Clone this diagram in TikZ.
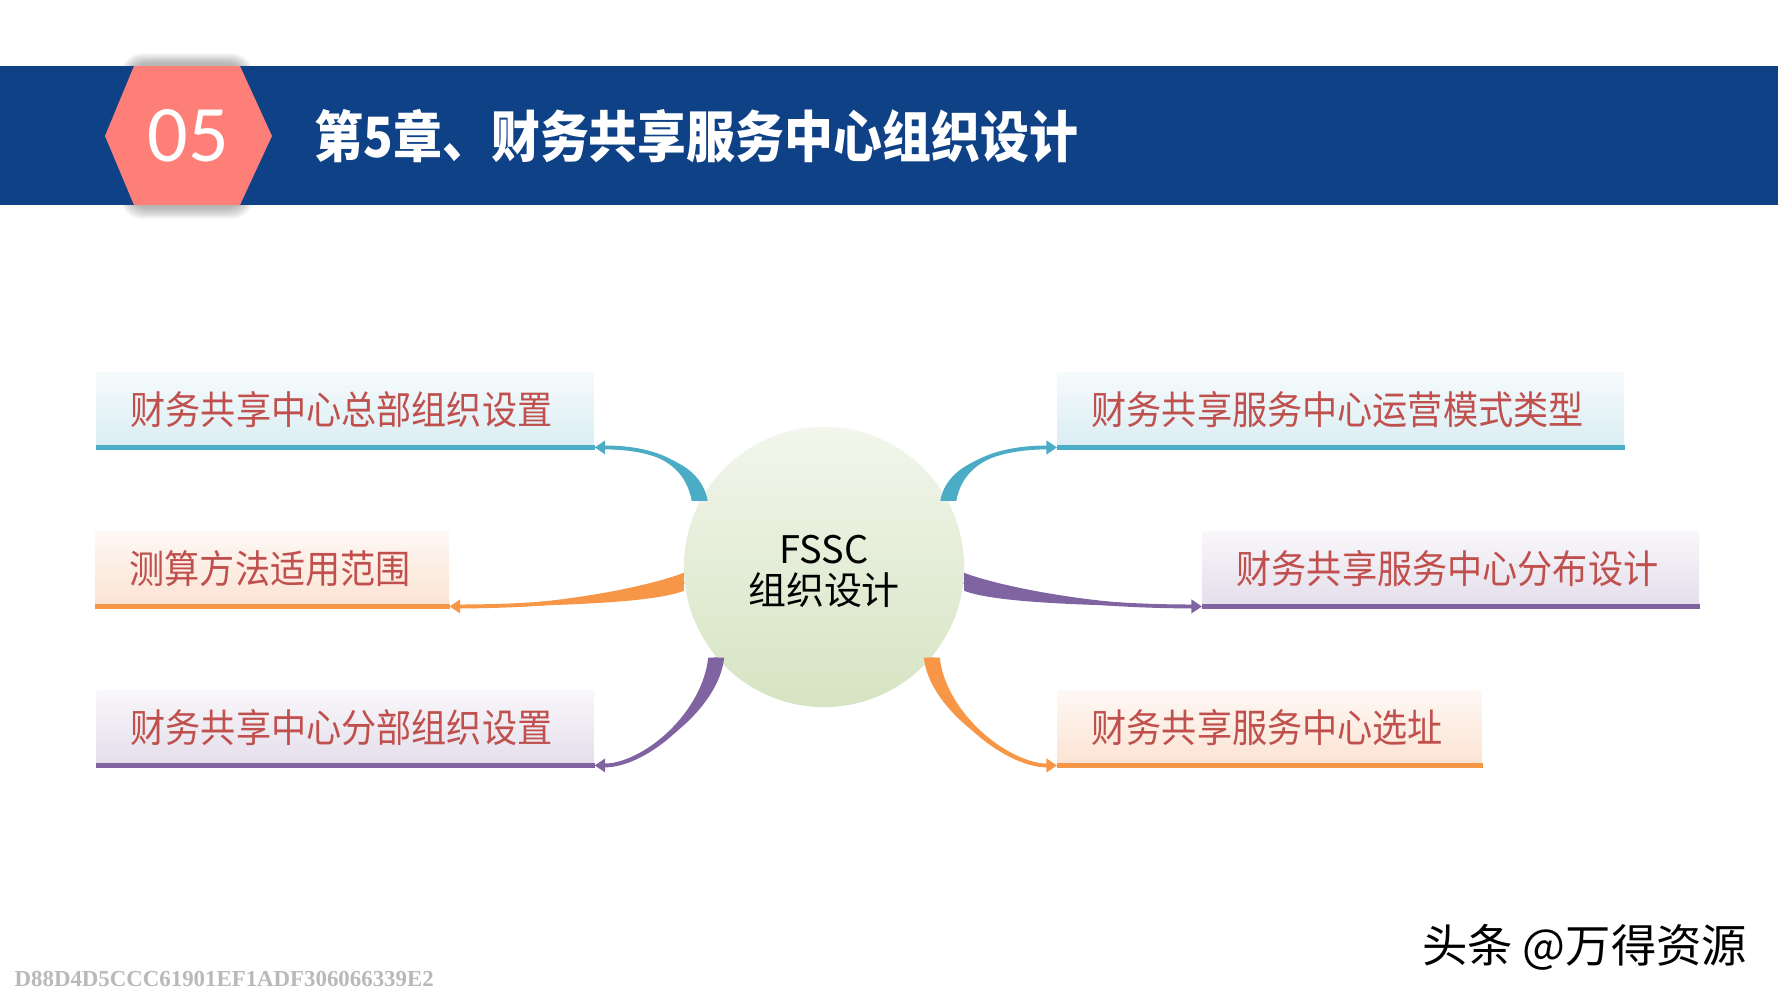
\documentclass[tikz,border=0pt]{standalone}
\usepackage{fontspec}
\newfontfamily\cjk{Noto Sans CJK SC}
\newfontfamily\boxfont{Noto Sans CJK SC}[FakeStretch=0.9]
\newfontfamily\titlefont{Noto Sans CJK SC}[FakeStretch=0.88]
\newfontfamily\numfont{Carlito}
\newfontfamily\markfont{Liberation Serif}
\usetikzlibrary{arrows.meta, calc}

\definecolor{bandblue}{HTML}{0F4186}
\definecolor{hexred}{HTML}{FE7F77}
\definecolor{cteal}{HTML}{4BACC6}
\definecolor{corange}{HTML}{F79646}
\definecolor{cpurple}{HTML}{8064A2}
\definecolor{ctext}{HTML}{C0504D}
\definecolor{ltteal}{HTML}{DAEDF3}
\definecolor{ltorange}{HTML}{FBE3D3}
\definecolor{ltpurple}{HTML}{E4DEEB}
\definecolor{hubtop}{HTML}{F2F6EC}
\definecolor{hubbot}{HTML}{D6E4C2}

\begin{document}
\begin{tikzpicture}[x=0.01cm, y=-0.01cm,
  box/.style={anchor=north west, minimum height=0.74cm, inner xsep=3.4mm, align=left,
    text=ctext, font=\boxfont\fontsize{11.1pt}{13pt}\selectfont},
  tbox/.style={box, top color=ltteal!25, bottom color=ltteal},
  obox/.style={box, top color=ltorange!25, bottom color=ltorange},
  pbox/.style={box, top color=ltpurple!25, bottom color=ltpurple},
  base/.style={line width=1.2pt},
  arrow/.style={-{Triangle[length=3pt, width=3.8pt]}, line width=1.1pt},
  hub/.style={circle, minimum size=2.8cm, inner sep=0pt, top color=hubtop, bottom color=hubbot,
    align=center, font=\cjk\fontsize{10.8pt}{11.7pt}\selectfont}
]
  \useasboundingbox[fill=white] (0,0) rectangle (1778,1000);

  % header
  \foreach \d in {1,...,7}
    \fill[black, opacity=0.045, rounded corners=6pt] (128-\d,64-1.5*\d) rectangle (246+\d,207+1.7*\d);
  \fill[bandblue] (0,66) rectangle (1778,205);
  \fill[hexred] (105,136) -- (134,66) -- (240,66) -- (272,136) -- (240,205) -- (134,205) -- cycle;
  \node[text=white, font=\numfont\fontsize{22.8pt}{24pt}\selectfont] (num) at (188,136) {05};
  \node[anchor=west, inner sep=0pt, text=white, font=\titlefont\bfseries\fontsize{15.8pt}{17pt}\selectfont]
    (title) at (314,136) {第5章、财务共享服务中心组织设计};

  % boxes
  \node[tbox, text width=4.29cm] (hq) at (96,372) {财务共享中心总部组织设置};
  \node[obox, text width=2.85cm] (range) at (95,531) {测算方法适用范围};
  \node[pbox, text width=4.29cm] (branch) at (96,690) {财务共享中心分部组织设置};
  \node[tbox, text width=4.98cm] (mode) at (1057,372) {财务共享服务中心运营模式类型};
  \node[pbox, text width=4.28cm] (distrib) at (1202,531) {财务共享服务中心分布设计};
  \node[obox, text width=3.56cm] (site) at (1057,690) {财务共享服务中心选址};
  \draw[base, cteal] (hq.south west) -- (hq.south east);
  \draw[base, corange] (range.south west) -- (range.south east);
  \draw[base, cpurple] (branch.south west) -- (branch.south east);
  \draw[base, cteal] (mode.south west) -- (mode.south east);
  \draw[base, cpurple] (distrib.south west) -- (distrib.south east);
  \draw[base, corange] (site.south west) -- (site.south east);

  \node[hub] (fssc) at (824,567) {\rule{0pt}{10.4pt}FSSC\\组织设计};

  % branches
  \fill[cteal] ($(fssc.152)+(-8,0)$) .. controls +(-8,-45) and +(45,0) .. (hq.south east)
    .. controls +(45,0) and +(-8,-45) .. ($(fssc.152)+(8,0)$) -- cycle;
  \draw[arrow, cteal] (fssc.152) .. controls +(-8,-45) and +(45,0) .. (hq.south east);

  \fill[cteal] ($(fssc.28)+(-8,0)$) .. controls +(8,-45) and +(-45,0) .. (mode.south west)
    .. controls +(-45,0) and +(8,-45) .. ($(fssc.28)+(8,0)$) -- cycle;
  \draw[arrow, cteal] (fssc.28) .. controls +(8,-45) and +(-45,0) .. (mode.south west);

  \fill[corange] ($(fssc.186)+(0,-9)$) .. controls +(-30,12) and +(110,0) .. (range.south east)
    .. controls +(110,0) and +(-30,12) .. ($(fssc.186)+(0,9)$) -- cycle;
  \draw[arrow, corange] (fssc.186) .. controls +(-30,12) and +(110,0) .. (range.south east);

  \fill[cpurple] ($(fssc.354)+(0,-9)$) .. controls +(30,12) and +(-110,0) .. (distrib.south west)
    .. controls +(-110,0) and +(30,12) .. ($(fssc.354)+(0,9)$) -- cycle;
  \draw[arrow, cpurple] (fssc.354) .. controls +(30,12) and +(-110,0) .. (distrib.south west);

  \fill[cpurple] ($(fssc.220)+(-8,0)$) .. controls +(-5,52) and +(52,0) .. (branch.south east)
    .. controls +(52,0) and +(-5,52) .. ($(fssc.220)+(8,0)$) -- cycle;
  \draw[arrow, cpurple] (fssc.220) .. controls +(-5,52) and +(52,0) .. (branch.south east);

  \fill[corange] ($(fssc.320)+(-8,0)$) .. controls +(5,52) and +(-52,0) .. (site.south west)
    .. controls +(-52,0) and +(5,52) .. ($(fssc.320)+(8,0)$) -- cycle;
  \draw[arrow, corange] (fssc.320) .. controls +(5,52) and +(-52,0) .. (site.south west);

  % footer
  \node[anchor=west, inner sep=0pt, text=gray!55, font=\markfont\bfseries\fontsize{6.5pt}{7pt}\selectfont]
    (mark) at (14,979) {D88D4D5CCC61901EF1ADF306066339E2};
  \node[anchor=east, inner sep=0pt, font=\cjk\fontsize{12.9pt}{14pt}\selectfont] (src) at (1748,947) {头条 @万得资源};
\end{tikzpicture}
\end{document}
